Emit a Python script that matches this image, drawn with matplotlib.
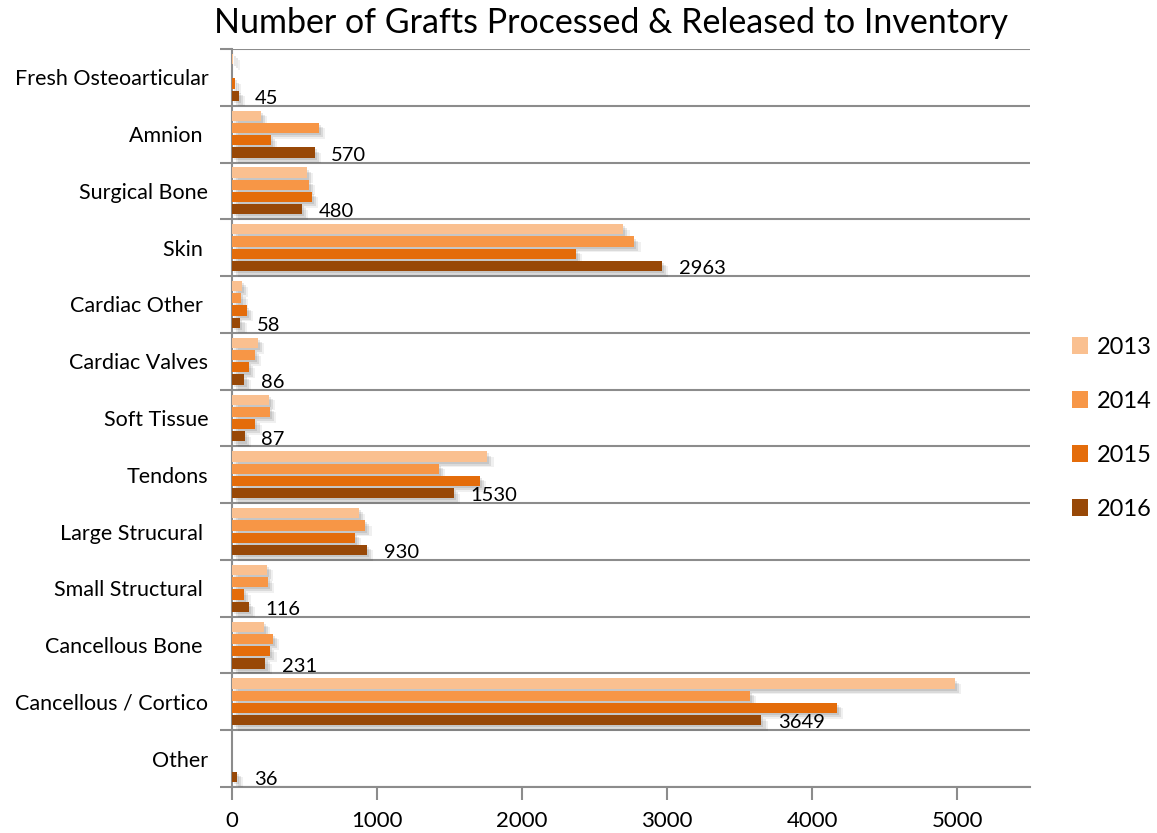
import matplotlib.pyplot as plt
import matplotlib.patheffects as pe
from matplotlib.patches import Patch
import numpy as np

plt.rcParams["font.family"] = ["Lato", "DejaVu Sans"]

categories = [
    "Fresh Osteoarticular", "Amnion ", "Surgical Bone", "Skin ", "Cardiac Other ",
    "Cardiac Valves", "Soft Tissue", "Tendons", "Large Strucural ", "Small Structural ",
    "Cancellous Bone ", "Cancellous / Cortico", "Other",
]
years = ["2013", "2014", "2015", "2016"]
grafts_2013 = [10, 200, 515, 2697, 67, 179, 255, 1760, 875, 241, 220, 4983, 0]
grafts_2014 = [0, 600, 528, 2773, 65, 156, 262, 1427, 919, 248, 283, 3570, 0]
grafts_2015 = [20, 269, 551, 2371, 101, 119, 161, 1707, 848, 85, 264, 4167, 0]
grafts_2016 = [45, 570, 480, 2963, 58, 86, 87, 1530, 930, 116, 231, 3649, 36]
colors = ["#FAC090", "#F79646", "#E46C0A", "#984807"]

series = [grafts_2013, grafts_2014, grafts_2015, grafts_2016]
grid_gray = "#8C8C8C"

fig = plt.figure(figsize=(11.57, 8.33), dpi=100)
ax = fig.add_axes([0.2005, 0.0552, 0.6897, 0.886])

pos = np.arange(len(categories))
slot, bar_h = 0.215, 0.18

# soft drop shadow built from a few stacked offset copies
shadow = [
    pe.SimplePatchShadow(offset=(1.5, -1.5), shadow_rgbFace="black", alpha=0.09),
    pe.SimplePatchShadow(offset=(3, -3), shadow_rgbFace="black", alpha=0.09),
    pe.SimplePatchShadow(offset=(4.5, -4), shadow_rgbFace="black", alpha=0.06),
    pe.Normal(),
]

for i, (vals, col) in enumerate(zip(series, colors)):
    y = pos + (i - 1.5) * slot
    bars = ax.barh(y, vals, height=bar_h, color=col, zorder=3)
    for b in bars:
        if b.get_width() > 0:
            b.set_path_effects(shadow)

# value labels for the latest year
for p, v in zip(pos, grafts_2016):
    ax.annotate(str(v), xy=(v, p + 1.5 * slot), xytext=(12, -2),
                textcoords="offset points", ha="left", va="center",
                fontsize=14.5, color="black", zorder=4)

ax.set_xlim(0, 5500)
ax.set_ylim(len(categories) - 0.5, -0.5)
ax.set_xticks(range(0, 5001, 1000))
ax.set_yticks(pos)
ax.set_yticklabels(categories)
ax.set_yticks(np.arange(-0.5, len(categories), 1), minor=True)

ax.tick_params(axis="y", which="major", length=0, pad=17, labelsize=15.5)
ax.tick_params(axis="y", which="minor", length=9, width=1.5, color=grid_gray)
ax.tick_params(axis="x", length=9, width=1.5, color=grid_gray, labelsize=16, pad=8)

ax.grid(axis="y", which="minor", color=grid_gray, linewidth=1.5, zorder=1)
for side in ["top", "right"]:
    ax.spines[side].set_visible(False)
for side in ["left", "bottom"]:
    ax.spines[side].set_color(grid_gray)
    ax.spines[side].set_linewidth(1.5)

fig.suptitle("Number of Grafts Processed & Released to Inventory",
             x=0.528, y=0.972, fontsize=24.5, va="center")

handles = [Patch(facecolor=c, edgecolor="none") for c in colors]
ax.legend(handles, years, loc="center left", bbox_to_anchor=(1.026, 0.486),
          frameon=False, fontsize=17, handlelength=0.7, handleheight=0.7,
          handletextpad=0.35, labelspacing=1.4)

fig.savefig("out.png", dpi=100)
